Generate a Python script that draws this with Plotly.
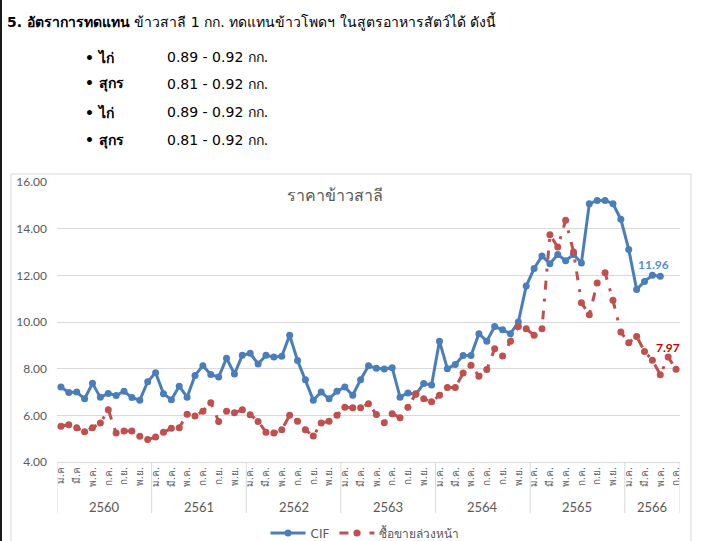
import plotly.graph_objects as go

# ---------------- data ----------------
years = ["2560", "2561", "2562", "2563", "2564", "2565", "2566"]
months_per_year = [12, 12, 12, 12, 12, 12, 7]
month_names = ["ม.ค.", "ก.พ.", "มี.ค.", "เม.ย.", "พ.ค.", "มิ.ย.",
               "ก.ค.", "ส.ค.", "ก.ย.", "ต.ค.", "พ.ย.", "ธ.ค."]
first_year_labels = {0: "ม.ค", 2: "มี.ค"}

cif = [7.21, 6.98, 7.00, 6.71, 7.37, 6.77, 6.94, 6.85, 7.03, 6.76, 6.65, 7.44,
       7.83, 6.93, 6.67, 7.25, 6.78, 7.71, 8.13, 7.75, 7.64, 8.45, 7.77, 8.57,
       8.66, 8.20, 8.57, 8.50, 8.53, 9.43, 8.35, 7.53, 6.65, 7.00, 6.71, 7.03,
       7.21, 6.86, 7.53, 8.12, 8.02, 7.99, 8.04, 6.78, 6.96, 6.90, 7.36, 7.30,
       9.18, 8.00, 8.18, 8.56, 8.56, 9.50, 9.18, 9.81, 9.67, 9.50, 10.00, 11.54,
       12.29, 12.83, 12.50, 12.89, 12.63, 12.89, 12.53, 15.07, 15.21, 15.21, 15.07, 14.40,
       13.11, 11.39, 11.74, 12.00, 11.96]

futures = [5.53, 5.60, 5.47, 5.30, 5.47, 5.67, 6.24, 5.24, 5.33, 5.33, 5.10, 4.96,
           5.07, 5.27, 5.45, 5.47, 6.05, 5.97, 6.18, 6.54, 5.74, 6.17, 6.11, 6.24,
           6.03, 5.74, 5.28, 5.24, 5.38, 6.00, 5.75, 5.38, 5.11, 5.67, 5.75, 6.00,
           6.35, 6.33, 6.33, 6.50, 6.04, 5.68, 6.07, 5.90, 6.35, 6.93, 6.71, 6.58,
           6.86, 7.19, 7.19, 7.81, 8.15, 7.68, 7.96, 8.85, 8.54, 9.17, 9.81, 9.71,
           9.43, 9.71, 13.74, 13.21, 14.36, 13.00, 10.83, 10.31, 11.67, 12.11, 10.93, 9.57,
           9.11, 9.38, 8.74, 8.36, 7.74, 8.50, 7.97]

series_names = ["CIF", "ซื้อขายล่วงหน้า"]
chart_title = "ราคาข้าวสาลี"

# ---------------- geometry helpers ----------------
W, H = 712, 541
L, R, T, B = 57, 680, 182, 462


def px(x):
    return (x - L) / (R - L)


def py(y):
    return (B - y) / (B - T)


FONT = "Lato, 'Noto Sans', sans-serif"
THAI = "Tahoma, 'DejaVu Sans', 'Noto Sans', sans-serif"
GREY = "#595959"
BLUE = "#4A7EBB"
RED = "#C0504D"

# ticks
tickvals, ticktext, starts = [], [], []
s = 0
for yi, (yr, n) in enumerate(zip(years, months_per_year)):
    starts.append(s)
    for m in range(0, n, 2):
        tickvals.append(s + m)
        if yi == 0 and m in first_year_labels:
            ticktext.append(first_year_labels[m])
        else:
            ticktext.append(month_names[m])
    s += n
total = s

fig = go.Figure()
fig.add_trace(go.Scatter(
    x=list(range(len(cif))), y=cif, name=series_names[0], mode="lines+markers",
    line=dict(color=BLUE, width=3), marker=dict(color=BLUE, size=7)))
fig.add_trace(go.Scatter(
    x=list(range(len(futures))), y=futures, name=series_names[1], mode="lines+markers",
    line=dict(color=RED, width=3, dash="9px,9px,3px,9px"),
    marker=dict(color=RED, size=7)))

shapes = []
# year dividers
bounds = [st - 0.5 for st in starts] + [total - 0.5]
for b in bounds:
    shapes.append(dict(type="line", xref="x", yref="paper", x0=b, x1=b,
                       y0=0, y1=py(513), line=dict(color="#D9D9D9", width=1)))
# chart area border
shapes.append(dict(type="rect", xref="paper", yref="paper",
                   x0=px(11), x1=px(691), y0=py(174), y1=py(548),
                   line=dict(color="#D9D9D9", width=1)))
# left black bar
shapes.append(dict(type="rect", xref="paper", yref="paper",
                   x0=px(0), x1=px(2), y0=py(0), y1=py(541),
                   fillcolor="#1a1a1a", line=dict(width=0)))

annotations = []
for yr, st, n in zip(years, starts, months_per_year):
    annotations.append(dict(x=st + (n - 1) / 2, y=py(507), xref="x", yref="paper",
                            xanchor="center", yanchor="middle",
                            text=yr, showarrow=False,
                            font=dict(family=FONT, size=13, color=GREY)))
annotations.append(dict(x=px(335), y=py(195), xref="paper", yref="paper",
                        xanchor="center", yanchor="middle",
                        text=chart_title, showarrow=False,
                        font=dict(family=THAI, size=16, color=GREY)))
# data labels on last points
annotations.append(dict(x=len(cif) - 1, y=cif[-1], xref="x", yref="y",
                        xanchor="center", yanchor="middle",
                        text=f"{cif[-1]:.2f}", showarrow=False, xshift=-7, yshift=12,
                        font=dict(family=FONT, size=12, color="#558ED5", weight="bold")))
annotations.append(dict(x=len(futures) - 1, y=futures[-1], xref="x", yref="y",
                        xanchor="center", yanchor="middle",
                        text=f"{futures[-1]:.2f}", showarrow=False, xshift=-8, yshift=22,
                        font=dict(family=FONT, size=12, color="#C00000", weight="bold")))

# header text
annotations.append(dict(x=px(5), y=py(21), xref="paper", yref="paper",
                        xanchor="left", yanchor="middle",
                        text="<b>5. อัตราการทดแทน</b> ข้าวสาลี 1 กก. ทดแทนข้าวโพดฯ ในสูตรอาหารสัตว์ได้ ดังนี้",
                        showarrow=False, font=dict(family=THAI, size=14, color="#000000")))
bullet_items = [("ไก่", "0.89 - 0.92 กก."), ("สุกร", "0.81 - 0.92 กก."),
                ("ไก่", "0.89 - 0.92 กก."), ("สุกร", "0.81 - 0.92 กก.")]
bullet_y = [57, 84, 112, 140]
for (animal, rng), yy in zip(bullet_items, bullet_y):
    annotations.append(dict(x=px(83), y=py(yy), xref="paper", yref="paper",
                            xanchor="left", yanchor="middle",
                            text=f"<b>• {animal}</b>", showarrow=False,
                            font=dict(family=THAI, size=14, color="#000000")))
    annotations.append(dict(x=px(165), y=py(yy), xref="paper", yref="paper",
                            xanchor="left", yanchor="middle",
                            text=rng, showarrow=False,
                            font=dict(family=THAI, size=14, color="#000000")))

fig.update_layout(
    width=W, height=H,
    margin=dict(l=L, r=W - R, t=T, b=H - B, pad=0, autoexpand=False),
    paper_bgcolor="white", plot_bgcolor="white",
    showlegend=True,
    legend=dict(orientation="h", x=px(365), xanchor="center", y=py(533), yanchor="middle",
                font=dict(family=THAI, size=12, color=GREY), bgcolor="rgba(0,0,0,0)",
                itemwidth=35),
    shapes=shapes, annotations=annotations,
    font=dict(family=FONT, color=GREY),
)
fig.update_yaxes(range=[4, 16], dtick=2, tickformat=".2f", showgrid=True,
                 gridcolor="#D9D9D9", gridwidth=1, zeroline=False, showline=False,
                 tickfont=dict(family=FONT, size=12, color=GREY), ticks="", ticklen=0,
                 ticklabelstandoff=9)
fig.update_xaxes(range=[-0.5, total - 0.5], tickmode="array", tickvals=tickvals,
                 ticktext=ticktext, tickangle=-90, showgrid=False, zeroline=False,
                 showline=True, linecolor="#D9D9D9", linewidth=1,
                 tickfont=dict(family=THAI, size=10, color=GREY), ticks="")

fig.write_html("out.html", post_script="document.body.style.margin='0';",
               config={"displayModeBar": False})
